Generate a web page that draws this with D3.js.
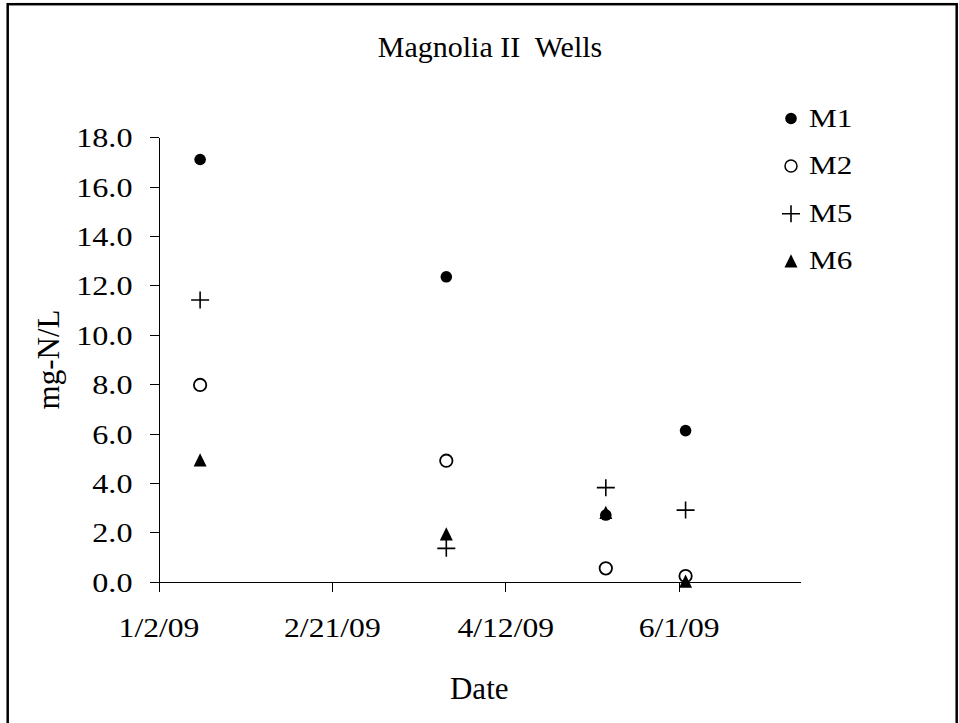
<!DOCTYPE html>
<html>
<head>
<meta charset="utf-8">
<script src="https://cdn.jsdelivr.net/npm/d3@7"></script>
<style>
  html, body { margin: 0; padding: 0; background: #fff; }
  svg { display: block; }
  text { font-family: "Liberation Serif", "Times New Roman", serif; fill: #000; }
</style>
</head>
<body>
<svg id="chart" width="959" height="723"></svg>
<script>
// ---------------- data ----------------
const sampleDates = ["2009-01-14", "2009-03-26", "2009-05-11", "2009-06-03"];
const seriesNames = ["M1", "M2", "M5", "M6"];
const m1Values = [17.1, 12.35, 2.7, 6.12];
const m2Values = [7.97, 4.9, 0.54, 0.23];
const m5Values = [11.41, 1.35, 3.81, 2.9];
const m6Values = [4.93, 1.93, 2.8, 0.02];
const yTickValues = [0, 2, 4, 6, 8, 10, 12, 14, 16, 18];
const xTickLabels = ["1/2/09", "2/21/09", "4/12/09", "6/1/09"];
const xDomainDates = ["2009-01-02", "2009-07-06"];
const yDomain = [0, 18];
const titleText = "Magnolia II  Wells";
const xTitle = "Date";
const yTitle = "mg-N/L";

// ---------------- layout ----------------
const svg = d3.select("#chart");
const plot = { left: 158.5, right: 800, top: 137.3, bottom: 581.7 };
const parse = d3.utcParse("%Y-%m-%d");
const fmt = d3.utcFormat("%-m/%-d/%y");

const x = d3.scaleUtc().domain(xDomainDates.map(parse)).range([plot.left, plot.right]);
const y = d3.scaleLinear().domain(yDomain).range([plot.bottom, plot.top]);

// outer frame
svg.append("rect")
  .attr("x", 7.7).attr("y", 4.2).attr("width", 949).attr("height", 730)
  .attr("fill", "none").attr("stroke", "#000").attr("stroke-width", 2.5);

// title
svg.append("text")
  .attr("x", 490).attr("y", 56.5)
  .attr("text-anchor", "middle")
  .attr("xml:space", "preserve")
  .style("white-space", "pre")
  .style("font-size", "30px")
  .text(titleText);

// x tick dates from the labels
const xTickDates = xTickLabels.map(d3.utcParse("%-m/%-d/%y"));

// y axis
const yAxis = d3.axisLeft(y).tickValues(yTickValues).tickSize(9).tickSizeOuter(0)
  .tickFormat(d3.format(".1f"));
const gy = svg.append("g").attr("transform", `translate(${plot.left},0)`).call(yAxis);
gy.select(".domain").attr("stroke", "#000").attr("shape-rendering", "crispEdges");
gy.selectAll(".tick line").attr("stroke", "#000").attr("shape-rendering", "crispEdges");
gy.selectAll(".tick text")
  .attr("x", 0).attr("dy", "0.34em")
  .attr("transform", "translate(-26,0) scale(1.15,1)")
  .attr("text-anchor", "end")
  .style("font-family", "'Liberation Serif', 'Times New Roman', serif")
  .style("font-size", "28px").attr("fill", "#000");

// x axis
const xAxis = d3.axisBottom(x).tickValues(xTickDates).tickSize(10).tickSizeOuter(0)
  .tickFormat(fmt);
const gx = svg.append("g").attr("transform", `translate(0,${plot.bottom})`).call(xAxis);
gx.select(".domain").attr("stroke", "#000").attr("shape-rendering", "crispEdges");
gx.selectAll(".tick line").attr("stroke", "#000").attr("shape-rendering", "crispEdges");
gx.selectAll(".tick text")
  .attr("y", 0).attr("dy", 0)
  .attr("transform", "translate(0,55) scale(1.13,1)")
  .attr("text-anchor", "middle")
  .style("font-family", "'Liberation Serif', 'Times New Roman', serif")
  .style("font-size", "28px").attr("fill", "#000");

// axis titles
svg.append("text")
  .attr("x", (plot.left + plot.right) / 2).attr("y", 699)
  .attr("text-anchor", "middle")
  .style("font-size", "31px")
  .text(xTitle);

svg.append("text")
  .attr("transform", `translate(59,${(plot.top + plot.bottom) / 2}) rotate(-90)`)
  .attr("text-anchor", "middle")
  .style("font-size", "31px")
  .text(yTitle);

// ---------------- markers ----------------
const markerDefs = {
  M1: g => g.append("circle").attr("r", 5.8).attr("fill", "#000"),
  M2: g => g.append("circle").attr("r", 6.2).attr("fill", "#fff").attr("stroke", "#000").attr("stroke-width", 1.8),
  M5: g => g.append("path").attr("d", "M-9,0H9M0,-8.5V8.5").attr("stroke", "#000").attr("stroke-width", 1.6).attr("fill", "none"),
  M6: g => g.append("path").attr("d", "M0,-6.8L6.5,6.5L-6.5,6.5Z").attr("fill", "#000")
};
const seriesValues = { M1: m1Values, M2: m2Values, M5: m5Values, M6: m6Values };

seriesNames.forEach(name => {
  const pts = sampleDates.map((d, i) => ({ date: parse(d), value: seriesValues[name][i] }));
  const gs = svg.append("g").attr("class", "series-" + name);
  gs.selectAll("g.pt").data(pts).join("g")
    .attr("class", "pt")
    .attr("transform", d => `translate(${x(d.date)},${y(d.value)})`)
    .each(function () { markerDefs[name](d3.select(this)); });
});

// ---------------- legend ----------------
const legendBaselines = [126.5, 174, 221.7, 269];
const legend = svg.append("g");
seriesNames.forEach((name, i) => {
  const row = legend.append("g").attr("transform", `translate(791,${legendBaselines[i]})`);
  const m = row.append("g").attr("transform", "translate(0,-8)");
  markerDefs[name](m);
  if (name === "M2") m.select("circle").attr("stroke-width", 1.5).attr("r", 6);
  row.append("text")
    .attr("transform", "translate(18,0) scale(1.2,1)")
    .style("font-size", "26px")
    .text(name);
});
</script>
</body>
</html>
